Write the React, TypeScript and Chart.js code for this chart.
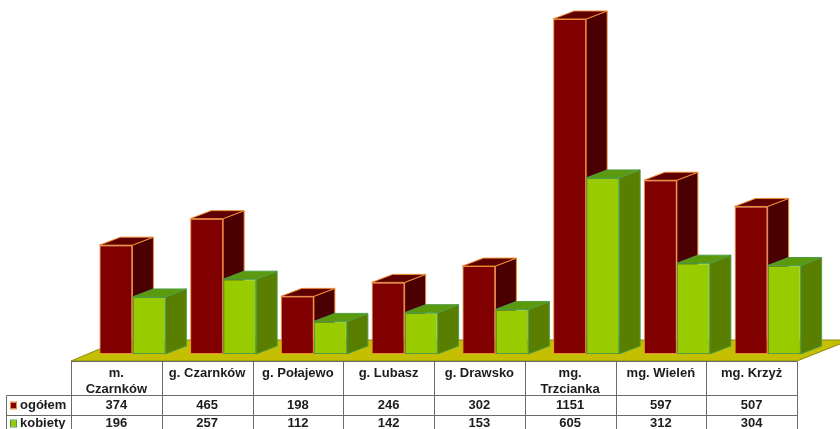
import React, { useEffect, useRef } from "react";
import { Chart, registerables } from "chart.js";

Chart.register(...registerables);

const categories = [
  ["m.", "Czarnków"],
  ["g. Czarnków"],
  ["g. Połajewo"],
  ["g. Lubasz"],
  ["g. Drawsko"],
  ["mg.", "Trzcianka"],
  ["mg. Wieleń"],
  ["mg. Krzyż"],
];
const ogolem = [374, 465, 198, 246, 302, 1151, 597, 507];
const kobiety = [196, 257, 112, 142, 153, 605, 312, 304];

const DEPTH_X = 21;
const DEPTH_Y = 8;
const TABLE_SHIFT = 16;
const FONT = "bold 13px 'Liberation Sans', Arial, sans-serif";
const TEXT = "#1c1c1c";
const GRID = "#6a6a6a";

const looks = [
  { label: "ogółem", values: ogolem, front: "#800000", side: "#4a0000", top: "#5e0000", edge: "#ee8a35" },
  { label: "kobiety", values: kobiety, front: "#99cc00", side: "#5a7f00", top: "#5b9a0c", edge: "#4f9e45" },
];

const depthPlugin = {
  id: "depthFaces",
  beforeDatasetsDraw(chart: any) {
    const { ctx, scales } = chart;
    const base = scales.y.getPixelForValue(0);
    const left = scales.x.left - TABLE_SHIFT;
    const right = left + scales.x.width;
    ctx.save();
    ctx.fillStyle = "#c4bf00";
    ctx.beginPath();
    ctx.moveTo(left, base + 7);
    ctx.lineTo(left + 50, base - 14);
    ctx.lineTo(chart.width + 10, base - 14);
    ctx.lineTo(right, base + 7);
    ctx.closePath();
    ctx.fill();
    ctx.strokeStyle = "#8d8a10";
    ctx.lineWidth = 1;
    ctx.stroke();

    ctx.lineWidth = 1;
    looks.forEach((look, index) => {
      ctx.strokeStyle = look.edge;
      chart.getDatasetMeta(index).data.forEach((bar: any) => {
        const x0 = bar.x - bar.width / 2;
        const x1 = bar.x + bar.width / 2;
        const y0 = bar.y;
        const y1 = bar.base;
        ctx.fillStyle = look.side;
        ctx.beginPath();
        ctx.moveTo(x1, y0);
        ctx.lineTo(x1 + DEPTH_X, y0 - DEPTH_Y);
        ctx.lineTo(x1 + DEPTH_X, y1 - DEPTH_Y);
        ctx.lineTo(x1, y1);
        ctx.closePath();
        ctx.fill();
        ctx.stroke();
        ctx.fillStyle = look.top;
        ctx.beginPath();
        ctx.moveTo(x0, y0);
        ctx.lineTo(x0 + DEPTH_X, y0 - DEPTH_Y);
        ctx.lineTo(x1 + DEPTH_X, y0 - DEPTH_Y);
        ctx.lineTo(x1, y0);
        ctx.closePath();
        ctx.fill();
        ctx.stroke();
      });
    });
    ctx.restore();
  },
  afterDraw(chart: any) {
    const { ctx, scales } = chart;
    const columnWidth = scales.x.width / categories.length;
    const left = scales.x.left - TABLE_SHIFT;
    const right = left + scales.x.width;
    const base = scales.y.getPixelForValue(0);
    const headTop = Math.round(base + 7) + 0.5;
    const headBottom = headTop + 34;
    const rowOne = headBottom + 20;
    const rowTwo = rowOne + 20;
    const legendLeft = 6.5;
    ctx.save();
    ctx.strokeStyle = GRID;
    ctx.lineWidth = 1;
    ctx.beginPath();
    ctx.moveTo(left, headTop);
    ctx.lineTo(right, headTop);
    [headBottom, rowOne, rowTwo].forEach((y) => {
      ctx.moveTo(legendLeft, y);
      ctx.lineTo(right, y);
    });
    for (let i = 0; i <= categories.length; i++) {
      const x = Math.round(left + i * columnWidth) + 0.5;
      ctx.moveTo(x, headTop);
      ctx.lineTo(x, rowTwo);
    }
    ctx.moveTo(legendLeft, headBottom);
    ctx.lineTo(legendLeft, rowTwo);
    ctx.stroke();

    ctx.fillStyle = TEXT;
    ctx.font = FONT;
    ctx.textBaseline = "middle";
    ctx.textAlign = "center";
    categories.forEach((lines, i) => {
      const cx = left + (i + 0.5) * columnWidth;
      lines.forEach((line, j) => ctx.fillText(line, cx, headTop + 12 + j * 16));
      looks.forEach((look, r) => {
        ctx.fillText(String(look.values[i]), cx, headBottom + 10 + r * 18);
      });
    });
    looks.forEach((look, r) => {
      const y = headBottom + 10 + r * 18;
      ctx.fillStyle = look.front;
      ctx.strokeStyle = look.edge;
      ctx.fillRect(11, y - 3, 5, 6);
      ctx.strokeRect(10.5, y - 3.5, 6, 7);
      ctx.fillStyle = TEXT;
      ctx.textAlign = "left";
      ctx.fillText(look.label, 20, y);
    });
    ctx.restore();
  },
};

export default function App() {
  const ref = useRef<HTMLCanvasElement>(null);
  useEffect(() => {
    const chart = new Chart(ref.current!, {
      type: "bar",
      data: {
        labels: categories.map((c) => c.join(" ")),
        datasets: looks.map((look) => ({
          label: look.label,
          data: look.values,
          backgroundColor: look.front,
          borderColor: look.edge,
          borderWidth: 1,
          borderSkipped: false,
          categoryPercentage: 66 / 90.75,
          barPercentage: 1,
        })),
      },
      options: {
        responsive: false,
        animation: false,
        devicePixelRatio: 1,
        layout: { padding: { left: 87, right: 27, top: 19, bottom: 75 } },
        plugins: { legend: { display: false }, tooltip: { enabled: false } },
        scales: {
          x: { display: false },
          y: { display: false, min: 0, max: 1151 },
        },
      },
      plugins: [depthPlugin],
    } as any);
    return () => chart.destroy();
  }, []);
  return (
    <canvas
      ref={ref}
      width={840}
      height={429}
      style={{ position: "fixed", left: 0, top: 0, width: 840, height: 429, background: "#fff", filter: "blur(0.4px)" }}
    />
  );
}
